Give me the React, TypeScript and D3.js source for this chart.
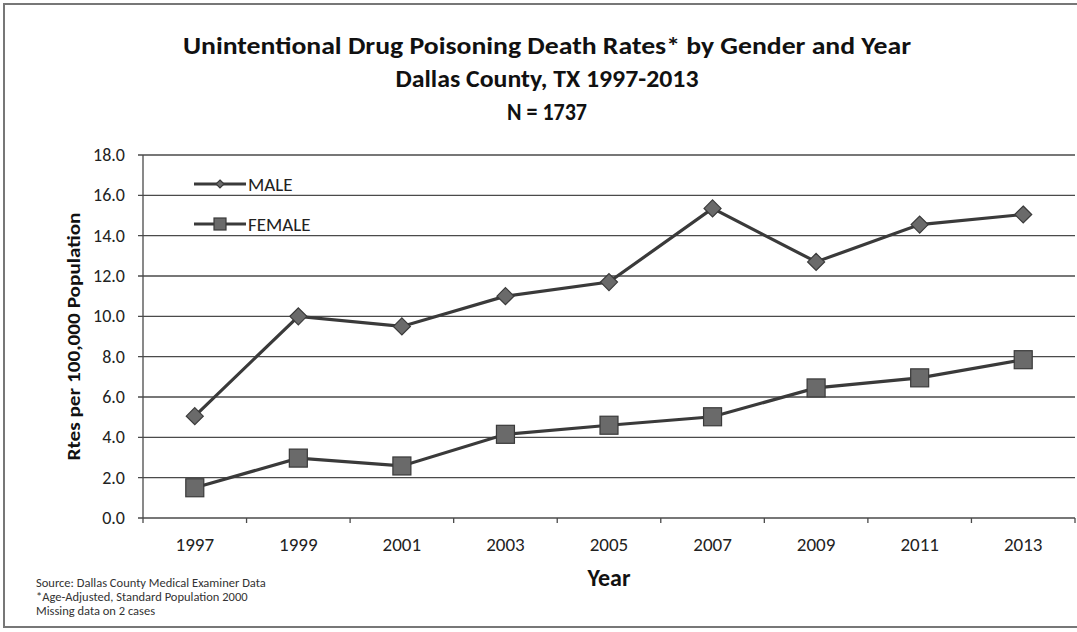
import React from 'react';
import * as d3 from 'd3';

const years = ['1997', '1999', '2001', '2003', '2005', '2007', '2009', '2011', '2013'];
const maleRates = [5.05, 10.0, 9.5, 11.0, 11.7, 15.35, 12.7, 14.55, 15.05];
const femaleRates = [1.5, 2.97, 2.58, 4.15, 4.6, 5.02, 6.45, 6.95, 7.85];
const yTicks = [0, 2, 4, 6, 8, 10, 12, 14, 16, 18];
const titleLines = [
  'Unintentional Drug Poisoning Death Rates* by Gender and Year',
  'Dallas County, TX 1997-2013',
  'N = 1737',
];
const footnotes = [
  'Source: Dallas County Medical Examiner Data',
  '*Age-Adjusted, Standard Population 2000',
  'Missing data on 2 cases',
];

const W = 1077;
const H = 632;
const font = "Carlito, Calibri, 'Open Sans', 'DejaVu Sans Condensed', sans-serif";

export default function App() {
  const margin = { top: 155, right: 2, bottom: 114, left: 143 };
  const x = d3.scaleBand().domain(years).range([margin.left, W - margin.right]);
  const y = d3.scaleLinear().domain([0, 18]).range([H - margin.bottom, margin.top]);
  const cx = (yr: string) => x(yr)! + x.bandwidth() / 2;

  const line = d3.line<number>()
    .x((_, i) => cx(years[i]))
    .y(d => y(d));

  const ink = '#3a3a3a';
  const marker = '#6a6a6a';

  const diamond = (px: number, py: number, r: number, key: string) => (
    <path key={key} d={`M${px},${py - r}L${px + r},${py}L${px},${py + r}L${px - r},${py}Z`}
      fill={marker} stroke={ink} strokeWidth={1.2} />
  );
  const square = (px: number, py: number, s: number, key: string) => (
    <rect key={key} x={px - s} y={py - s} width={s * 2} height={s * 2}
      fill={marker} stroke={ink} strokeWidth={1.2} />
  );

  const bottom = y(0);
  const boundaries = years.map(yr => x(yr)!).concat([W - margin.right]);

  return (
    <svg width={W} height={H} style={{ position: 'absolute', left: 0, top: 0, background: '#fff' }}
      fontFamily={font}>
      <rect x={4} y={4} width={W + 10} height={623} fill="none" stroke="#777" strokeWidth={2} />

      {titleLines.map((t, i) => (
        <text key={t} x={547} y={54 + i * 33} textAnchor="middle" fontSize={24} fontWeight="bold"
          fill="#111" textLength={i === 0 ? 728 : i === 1 ? 303 : 80} lengthAdjust="spacingAndGlyphs">{t}</text>
      ))}

      {yTicks.map(t => (
        <g key={t}>
          <line x1={margin.left - 5} x2={W - margin.right} y1={y(t)} y2={y(t)}
            stroke="#4a4a4a" strokeWidth={1.3} />
          <text x={125} y={y(t) + 6} textAnchor="end" fontSize={18} fill="#222">{t.toFixed(1)}</text>
        </g>
      ))}
      <line x1={margin.left} x2={margin.left} y1={y(18)} y2={bottom} stroke="#4a4a4a" strokeWidth={1.3} />
      {boundaries.map((b, i) => (
        <line key={i} x1={b} x2={b} y1={bottom} y2={bottom + 5} stroke="#4a4a4a" strokeWidth={1.3} />
      ))}
      {years.map(yr => (
        <text key={yr} x={cx(yr)} y={bottom + 33} textAnchor="middle" fontSize={19} fill="#222">{yr}</text>
      ))}

      <text x={609} y={586} textAnchor="middle" fontSize={24} fontWeight="bold" fill="#111">Year</text>
      <text transform={`translate(80,${(y(0) + y(18)) / 2}) rotate(-90)`} textAnchor="middle"
        fontSize={19} fontWeight="bold" fill="#111" textLength={248}
        lengthAdjust="spacingAndGlyphs">Rtes per 100,000 Population</text>

      <path d={line(femaleRates)!} fill="none" stroke={ink} strokeWidth={3.2} />
      <path d={line(maleRates)!} fill="none" stroke={ink} strokeWidth={3.2} />
      {femaleRates.map((v, i) => square(cx(years[i]), y(v), 9, 'f' + i))}
      {maleRates.map((v, i) => diamond(cx(years[i]), y(v), 8.5, 'm' + i))}

      <line x1={194} x2={246} y1={184} y2={184} stroke={ink} strokeWidth={3.2} />
      {diamond(220, 184, 4, 'lm')}
      <text x={248} y={191} fontSize={19} fill="#222">MALE</text>
      <line x1={194} x2={246} y1={224} y2={224} stroke={ink} strokeWidth={3.2} />
      {square(220, 224, 6, 'lf')}
      <text x={248} y={231} fontSize={19} fill="#222">FEMALE</text>

      {footnotes.map((t, i) => (
        <text key={t} x={36} y={587 + i * 14} fontSize={12.5} fill="#333">{t}</text>
      ))}
    </svg>
  );
}
